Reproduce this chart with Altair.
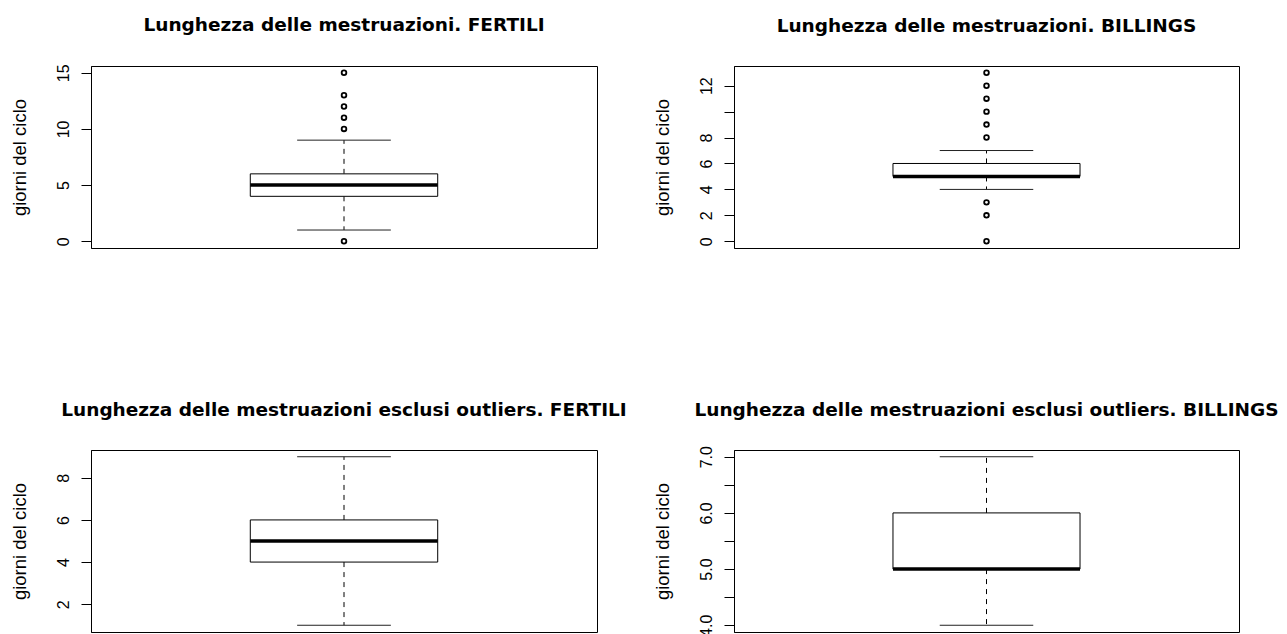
import altair as alt
import pandas as pd

# ---- data ----
titles = [
    "Lunghezza delle mestruazioni. FERTILI",
    "Lunghezza delle mestruazioni. BILLINGS",
    "Lunghezza delle mestruazioni esclusi outliers. FERTILI",
    "Lunghezza delle mestruazioni esclusi outliers. BILLINGS",
]
y_title = "giorni del ciclo"

# five-number summaries: lower whisker, Q1, median, Q3, upper whisker
stats_fertili = [1, 4, 5, 6, 9]
stats_billings = [4, 5, 5, 6, 7]
stats_fertili_clean = [1, 4, 5, 6, 9]
stats_billings_clean = [4, 5, 5, 6, 7]

outliers_fertili = [0, 10, 11, 12, 13, 15]
outliers_billings = [0, 2, 3, 8, 9, 10, 11, 12, 13]
outliers_fertili_clean = []
outliers_billings_clean = []

ticks_fertili = [0, 5, 10, 15]
ticks_billings = [0, 2, 4, 6, 8, 10, 12]
ticks_fertili_clean = [2, 4, 6, 8]
ticks_billings_clean = [4.0, 4.5, 5.0, 5.5, 6.0, 6.5, 7.0]

# ---- styling / geometry ----
BOX_CENTER = 1.0
BOX_HALF = 0.2
STAPLE_HALF = 0.1
X_DOMAIN = [BOX_CENTER - 0.54, BOX_CENTER + 0.54]
PLOT_H = 182
LABEL_FONT = "Liberation Sans"
TITLE_FONT = "DejaVu Sans"


def panel(title, stats, outliers, ticks, width, label_expr=None, title_offset=31):
    lo, q1, med, q3, hi = stats
    vals = list(stats) + list(outliers)
    vmin, vmax = min(vals), max(vals)
    pad = 0.04 * (vmax - vmin)
    yscale = alt.Scale(domain=[vmin - pad, vmax + pad], nice=False, zero=False)
    axis_kw = dict(
        values=ticks, grid=False, labelAngle=270, labelFontSize=16,
        labelFont=LABEL_FONT, labelColor="black", labelPadding=10,
        tickSize=10, tickColor="black", tickWidth=1,
        domainColor="black", domainWidth=1,
        titleFont=LABEL_FONT, titleFontSize=18.5, titleFontWeight="normal",
        titleColor="black", titleX=-62, titleY=PLOT_H / 2,
    )
    if label_expr:
        axis_kw["labelExpr"] = label_expr
    Y = alt.Y("y:Q", scale=yscale, axis=alt.Axis(**axis_kw), title=y_title)
    X = alt.X("x:Q", scale=alt.Scale(domain=X_DOMAIN, nice=False, zero=False), axis=None)

    box_df = pd.DataFrame({"x": [BOX_CENTER - BOX_HALF], "x2": [BOX_CENTER + BOX_HALF],
                           "y": [q1], "y2": [q3]})
    med_df = pd.DataFrame({"x": [BOX_CENTER - BOX_HALF], "x2": [BOX_CENTER + BOX_HALF],
                           "y": [med]})
    whisk_df = pd.DataFrame({"x": [BOX_CENTER, BOX_CENTER], "y": [q3, q1], "y2": [hi, lo]})
    staple_df = pd.DataFrame({"x": [BOX_CENTER - STAPLE_HALF] * 2,
                              "x2": [BOX_CENTER + STAPLE_HALF] * 2,
                              "y": [hi, lo]})
    out_df = pd.DataFrame({"x": [BOX_CENTER] * len(outliers), "y": outliers})

    whiskers = alt.Chart(whisk_df).mark_rule(color="black", strokeWidth=1,
                                             strokeDash=[5, 5]).encode(x=X, y=Y, y2="y2:Q")
    staples = alt.Chart(staple_df).mark_rule(color="#222222", strokeWidth=1).encode(
        x=X, x2="x2:Q", y=Y)
    box = alt.Chart(box_df).mark_rect(fill="white", stroke="black", strokeWidth=1).encode(
        x=X, x2="x2:Q", y=Y, y2="y2:Q")
    median = alt.Chart(med_df).mark_rule(color="black", strokeWidth=3.5,
                                         strokeCap="butt").encode(x=X, x2="x2:Q", y=Y)
    layers = [whiskers, staples, box, median]
    if len(outliers):
        pts = alt.Chart(out_df).mark_point(shape="circle", filled=False, color="black",
                                           size=22, strokeWidth=1.8, opacity=1).encode(x=X, y=Y)
        layers.append(pts)
    return alt.layer(*layers).properties(
        width=width, height=PLOT_H,
        title=alt.TitleParams(text=title, font=TITLE_FONT, fontSize=18.5, fontWeight="bold",
                              color="black", anchor="middle", offset=title_offset,
                              frame="group"),
    )


p1 = panel(titles[0], stats_fertili, outliers_fertili, ticks_fertili, 506,
           title_offset=29)
p2 = panel(titles[1], stats_billings, outliers_billings, ticks_billings, 505,
           "datum.value === 10 ? '' : datum.label")
p3 = panel(titles[2], stats_fertili_clean, outliers_fertili_clean, ticks_fertili_clean, 506)
p4 = panel(titles[3], stats_billings_clean, outliers_billings_clean, ticks_billings_clean, 505,
           "datum.value % 1 === 0 ? format(datum.value, '.1f') : ''", title_offset=26.6)

chart = alt.concat(
    p1, p2, p3, p4, columns=2,
    spacing={"row": 202, "column": 137}, bounds="flush",
).properties(
    autosize=alt.AutoSizeParams(type="none"),
    padding={"left": 83, "top": 58, "right": 1188, "bottom": 568},
    background="white",
).configure_view(stroke="black", strokeWidth=1)

chart.save("out.html", embed_options={"renderer": "svg", "actions": False})
